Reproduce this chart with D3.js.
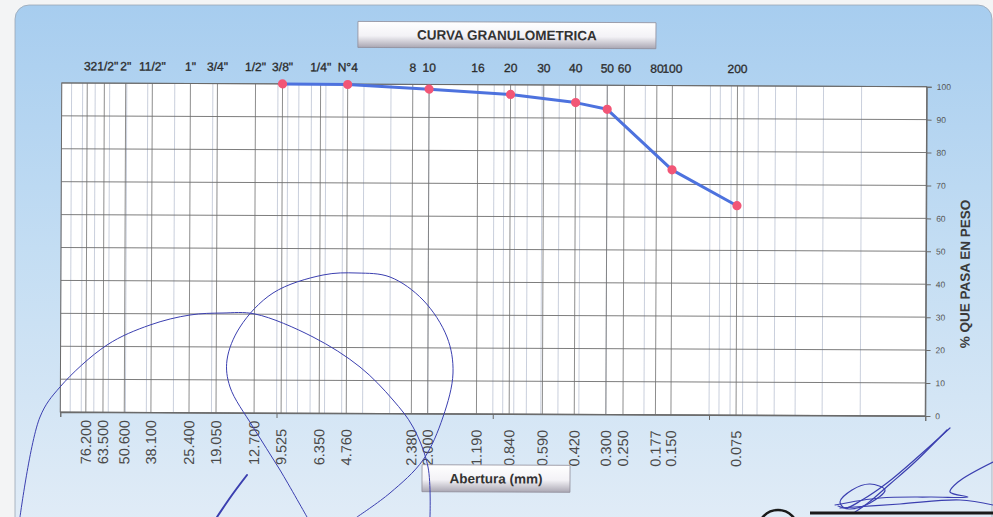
<!DOCTYPE html>
<html>
<head>
<meta charset="utf-8">
<script src="https://cdn.jsdelivr.net/npm/d3@7"></script>
<style>
  html, body { margin: 0; padding: 0; background: #f3f4f5; }
  svg { display: block; font-family: "Liberation Sans", Arial, sans-serif; }
</style>
</head>
<body>
<svg id="chart" width="993" height="517"></svg>
<script>
// Sieve series (ASTM) shown along the top and bottom of the grid
const sieveNames = ['3', '21/2"', '2"', '11/2"', '1"', '3/4"', '1/2"', '3/8"', '1/4"', 'N°4',
                    '8', '10', '16', '20', '30', '40', '50', '60', '80', '100', '200'];
const sieveOpenings = [76.2, 63.5, 50.6, 38.1, 25.4, 19.05, 12.7, 9.525, 6.35, 4.76,
                       2.38, 2.0, 1.19, 0.84, 0.59, 0.42, 0.30, 0.25, 0.177, 0.15, 0.075];
const openingLabels = ['76.200', '63.500', '50.600', '38.100', '25.400', '19.050', '12.700', '9.525',
                       '6.350', '4.760', '2.380', '2.000', '1.190', '0.840', '0.590', '0.420',
                       '0.300', '0.250', '0.177', '0.150', '0.075'];

// Grading result: sieve opening (mm) and percent passing by weight
const sampleOpenings = [9.525, 4.76, 2.0, 0.84, 0.42, 0.30, 0.15, 0.075];
const percentPassing = [100, 99.9, 98.6, 97.1, 94.7, 92.7, 74.4, 63.6];

const percentTicks = [0, 10, 20, 30, 40, 50, 60, 70, 80, 90, 100];
const decadeTicks = [100, 10, 1, 0.1, 0.01];

const svg = d3.select('#chart');
const defs = svg.append('defs');

const panelGrad = defs.append('linearGradient').attr('id', 'panelGrad')
  .attr('x1', 0).attr('y1', 0).attr('x2', 0).attr('y2', 1);
panelGrad.append('stop').attr('offset', '0%').attr('stop-color', '#a7cdef');
panelGrad.append('stop').attr('offset', '45%').attr('stop-color', '#c3ddf3');
panelGrad.append('stop').attr('offset', '100%').attr('stop-color', '#e3edf7');

const boxGrad = defs.append('linearGradient').attr('id', 'boxGrad')
  .attr('x1', 0).attr('y1', 0).attr('x2', 0).attr('y2', 1);
boxGrad.append('stop').attr('offset', '0%').attr('stop-color', '#ffffff');
boxGrad.append('stop').attr('offset', '55%').attr('stop-color', '#f3f2f6');
boxGrad.append('stop').attr('offset', '100%').attr('stop-color', '#aaa7b3');

// Background panel
svg.append('rect')
  .attr('x', 15).attr('y', 5).attr('width', 977).attr('height', 540).attr('rx', 14)
  .attr('fill', 'url(#panelGrad)').attr('stroke', '#9aa6b4').attr('stroke-width', 0.8);

const chart = svg.append('g').attr('transform', 'rotate(0.25, 493, 250)');

const x = d3.scaleLog().domain([100, 0.01]).range([61, 926]);
const y = d3.scaleLinear().domain([0, 100]).range([414, 84.8]);

// Plot area
chart.append('rect')
  .attr('x', x(100)).attr('y', y(100))
  .attr('width', x(0.01) - x(100)).attr('height', y(0) - y(100))
  .attr('fill', '#ffffff');

// Minor logarithmic grid
chart.append('g').selectAll('line').data(x.ticks())
  .join('line')
  .attr('x1', d => x(d)).attr('x2', d => x(d))
  .attr('y1', y(100)).attr('y2', y(0))
  .attr('stroke', '#bcc3d3').attr('stroke-width', 0.8);

// Sieve grid lines
chart.append('g').selectAll('line').data(sieveOpenings)
  .join('line')
  .attr('x1', d => x(d)).attr('x2', d => x(d))
  .attr('y1', y(100)).attr('y2', y(0))
  .attr('stroke', '#707070').attr('stroke-width', 0.8);

// Horizontal grid
chart.append('g').selectAll('line').data(percentTicks)
  .join('line')
  .attr('x1', x(100)).attr('x2', x(0.01))
  .attr('y1', d => y(d)).attr('y2', d => y(d))
  .attr('stroke', '#6e6e6e').attr('stroke-width', 0.9);

// Plot border
chart.append('rect')
  .attr('x', x(100)).attr('y', y(100))
  .attr('width', x(0.01) - x(100)).attr('height', y(0) - y(100))
  .attr('fill', 'none').attr('stroke', '#6a6a6a').attr('stroke-width', 1);

// Bottom axis: decade ticks only, labels are placed at sieve openings
const xAxis = chart.append('g').attr('transform', `translate(0,${y(0)})`)
  .call(d3.axisBottom(x).tickValues(decadeTicks).tickSize(5).tickFormat(''));
xAxis.select('.domain').attr('stroke', '#6a6a6a');
xAxis.selectAll('.tick line').attr('stroke', '#6a6a6a');

chart.append('g').selectAll('text').data(sieveOpenings)
  .join('text')
  .attr('transform', d => `translate(${x(d)},466) rotate(-90)`)
  .attr('dy', '0.36em')
  .attr('text-anchor', 'start')
  .attr('font-size', 14.5)
  .attr('fill', '#4a4a4a')
  .text((d, i) => openingLabels[i]);

// Top sieve designations
chart.append('g').selectAll('text').data(sieveOpenings)
  .join('text')
  .attr('x', d => x(d)).attr('y', 72)
  .attr('text-anchor', 'middle')
  .attr('font-size', 12)
  .attr('fill', '#2b2b2b')
  .attr('stroke', '#2b2b2b').attr('stroke-width', 0.3)
  .text((d, i) => sieveNames[i]);

// Right axis
const yAxis = chart.append('g').attr('transform', `translate(${x(0.01)},0)`)
  .call(d3.axisRight(y).tickValues(percentTicks).tickSize(5).tickPadding(5));
yAxis.select('.domain').attr('stroke', '#6a6a6a');
yAxis.selectAll('.tick line').attr('stroke', '#6a6a6a');
yAxis.selectAll('.tick text').attr('font-size', 8.5).attr('fill', '#555')
  .attr('font-family', '"Liberation Sans", Arial, sans-serif');

chart.append('text')
  .attr('transform', 'translate(965,272) rotate(-90)')
  .attr('dy', '0.36em')
  .attr('text-anchor', 'middle')
  .attr('font-size', 13.5).attr('font-weight', 'bold')
  .attr('fill', '#3a3a3a')
  .text('% QUE PASA EN PESO');

// Grading curve
const points = sampleOpenings.map((d, i) => [d, percentPassing[i]]);
chart.append('path')
  .datum(points)
  .attr('fill', 'none')
  .attr('stroke', '#4d72de').attr('stroke-width', 3)
  .attr('stroke-linejoin', 'round')
  .attr('d', d3.line().x(d => x(d[0])).y(d => y(d[1])));

chart.append('g').selectAll('circle').data(points)
  .join('circle')
  .attr('cx', d => x(d[0])).attr('cy', d => y(d[1]))
  .attr('r', 4.6)
  .attr('fill', '#f25676');

// Title and axis caption boxes
function captionBox(cx, cy, w, h, label) {
  const g = chart.append('g');
  g.append('rect')
    .attr('x', cx - w / 2).attr('y', cy - h / 2).attr('width', w).attr('height', h)
    .attr('fill', 'url(#boxGrad)').attr('stroke', '#8e8c98').attr('stroke-width', 0.8);
  g.append('text')
    .attr('x', cx).attr('y', cy).attr('dy', '0.36em')
    .attr('text-anchor', 'middle')
    .attr('font-size', 13.5).attr('font-weight', 'bold')
    .attr('fill', '#333')
    .text(label);
}
captionBox(506, 35, 298, 26, 'CURVA GRANULOMETRICA');
captionBox(497, 478.5, 148, 27, 'Abertura (mm)');

// Ink strokes written over the sheet
const ink = svg.append('g').attr('fill', 'none').attr('stroke', '#3b3fb0')
  .attr('stroke-linecap', 'round');
const pen = d3.line().curve(d3.curveCatmullRom.alpha(0.5));
const strokes = [
  {w: 1, pts: [[20, 517], [40, 417], [60, 387], [107, 345], [150, 325], [190, 315], [223, 313], [255, 314],
               [313, 337], [360, 367], [393, 400], [413, 427], [428, 467], [430, 517]]},
  {w: 1, pts: [[307, 517], [280, 470], [253, 427], [230, 387], [227, 360], [240, 327], [273, 293], [323, 275],
               [357, 273], [390, 277], [423, 300], [447, 337], [453, 373], [443, 417], [423, 460],
               [390, 493], [357, 517]]},
  {w: 2, pts: [[247, 475], [232, 495], [217, 517]]},
  {w: 1.2, pts: [[950, 428], [920, 455], [887, 483], [862, 500], [845, 508], [840, 502], [852, 490],
                 [870, 484], [885, 490], [870, 503], [850, 509], [838, 506]]},
  {w: 1.2, pts: [[947, 430], [915, 462], [890, 484], [868, 503], [855, 512]]},
  {w: 1.2, pts: [[835, 505], [880, 498], [930, 497], [968, 497], [950, 492], [958, 482], [993, 462]]},
  {w: 1.2, pts: [[840, 508], [900, 504], [960, 500], [993, 505]]}
];
ink.selectAll('path').data(strokes).join('path')
  .attr('stroke-width', d => d.w)
  .attr('d', d => pen(d.pts));

// Stamp edge at the bottom of the sheet
svg.append('line').attr('x1', 810).attr('x2', 993).attr('y1', 513).attr('y2', 513)
  .attr('stroke', '#1a1a1a').attr('stroke-width', 3);
svg.append('circle').attr('cx', 778).attr('cy', 530).attr('r', 20)
  .attr('fill', 'none').attr('stroke', '#1a1a1a').attr('stroke-width', 2.5);
</script>
</body>
</html>
